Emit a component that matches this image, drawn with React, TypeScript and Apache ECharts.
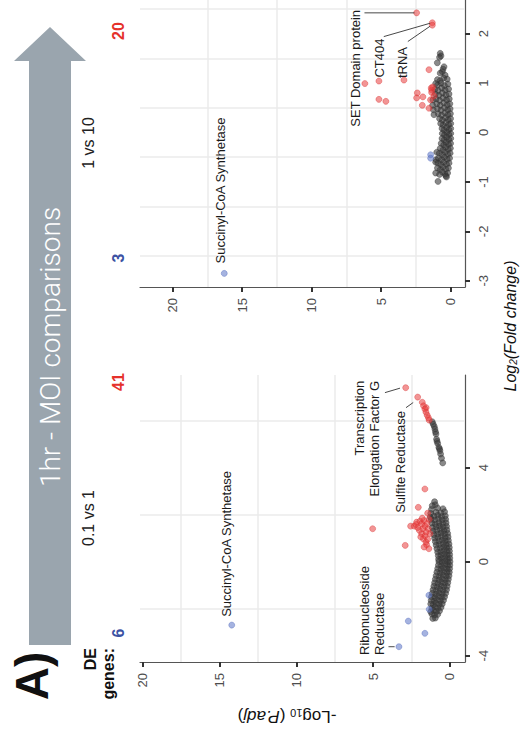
import React, { useEffect, useRef } from "react";
import * as echarts from "echarts";

// Each point is [-log10(P.adj), log2(fold change)].
// 1 vs 10 comparison
const topNs: number[][] = [
  [0.75, 1.6], [0.7, 1.55], [0.8, 1.52], [0.96, 1.41], [0.48, 1.33], [0.6, 1.23], [0.4, 1.16], [0.75, 1.2], [0.55, 1.28],
  [0.25, 1.08], [0.5, 1.1], [0.75, 1.05], [0.95, 1.07],
  [0.2, 0.98], [0.45, 0.95], [0.7, 1.0], [0.95, 0.96], [1.08, 0.99],
  [0.15, 0.88], [0.4, 0.86], [0.65, 0.9], [0.9, 0.85], [1.15, 0.87],
  [0.12, 0.78], [0.35, 0.76], [0.6, 0.8], [0.85, 0.75], [1.1, 0.78],
  [0.1, 0.68], [0.3, 0.66], [0.55, 0.7], [0.8, 0.65], [1.05, 0.68], [1.28, 0.66],
  [0.06, 0.58], [0.25, 0.56], [0.5, 0.6], [0.75, 0.55], [1.0, 0.58], [1.3, 0.55],
  [0.04, 0.48], [0.22, 0.46], [0.45, 0.5], [0.7, 0.45], [0.95, 0.48], [1.25, 0.46],
  [0.02, 0.38], [0.2, 0.36], [0.42, 0.4], [0.65, 0.35], [0.9, 0.38], [1.2, 0.36],
  [0.01, 0.28], [0.18, 0.26], [0.38, 0.3], [0.6, 0.25], [0.8, 0.28],
  [0.0, 0.18], [0.15, 0.16], [0.35, 0.2], [0.55, 0.15], [0.72, 0.18],
  [0.0, 0.08], [0.14, 0.06], [0.3, 0.1], [0.48, 0.05], [0.62, 0.08],
  [0.0, -0.02], [0.13, -0.04], [0.28, 0.0], [0.45, -0.05], [0.6, -0.02],
  [0.0, -0.12], [0.14, -0.14], [0.3, -0.1], [0.47, -0.15], [0.62, -0.12],
  [0.01, -0.22], [0.16, -0.24], [0.33, -0.2], [0.5, -0.25], [0.68, -0.22],
  [0.02, -0.32], [0.18, -0.34], [0.36, -0.3], [0.55, -0.35], [0.75, -0.32],
  [0.04, -0.42], [0.2, -0.44], [0.4, -0.4], [0.6, -0.45], [0.82, -0.42], [1.0, -0.4],
  [0.08, -0.52], [0.25, -0.54], [0.45, -0.5], [0.65, -0.55], [0.88, -0.52], [1.05, -0.55],
  [0.12, -0.62], [0.3, -0.64], [0.5, -0.6], [0.7, -0.65], [0.92, -0.62], [1.08, -0.6],
  [0.16, -0.72], [0.35, -0.74], [0.55, -0.7], [0.75, -0.75], [0.95, -0.72],
  [0.22, -0.82], [0.4, -0.84], [0.6, -0.8], [0.8, -0.85], [1.08, -0.82],
  [0.91, -0.99], [0.35, -0.88], [0.3, -0.9],
];
const topUp: number[][] = [
  [2.45, 2.42], [1.32, 2.22], [1.32, 2.17], [6.17, 0.99], [5.16, 1.04], [5.16, 0.67], [4.66, 0.63],
  [3.36, 1.06], [1.56, 1.27], [2.4, 0.8], [2.45, 0.7], [2.0, 0.72], [2.04, 0.55], [1.56, 0.49],
  [1.37, 0.86], [1.37, 0.81], [1.45, 0.66], [1.3, 0.92], [1.2, 0.74], [1.4, 0.9],
];
const topDown: number[][] = [[16.28, -2.85], [1.44, -0.45], [1.44, -0.52]];

// 0.1 vs 1 comparison
const bottomNs: number[][] = [
  [1.0, 2.55], [0.95, 2.42], [1.15, 2.38],
  [0.45, 2.25], [0.8, 2.28], [1.2, 2.22],
  [0.35, 2.12], [0.6, 2.08], [0.9, 2.1], [1.25, 2.05],
  [0.3, 1.95], [0.55, 1.92], [0.8, 1.97], [1.05, 1.93], [1.28, 1.9],
  [0.28, 1.8], [0.5, 1.78], [0.75, 1.82], [1.0, 1.77], [1.22, 1.8],
  [0.25, 1.65], [0.48, 1.62], [0.7, 1.66], [0.95, 1.6], [1.18, 1.64],
  [0.22, 1.5], [0.45, 1.47], [0.68, 1.52], [0.9, 1.48], [1.15, 1.45],
  [0.2, 1.35], [0.4, 1.32], [0.62, 1.37], [0.85, 1.33], [1.1, 1.3],
  [0.15, 1.2], [0.35, 1.18], [0.58, 1.22], [0.8, 1.17], [1.05, 1.15],
  [0.12, 1.05], [0.32, 1.02], [0.55, 1.07], [0.78, 1.03], [1.0, 1.0],
  [0.1, 0.9], [0.3, 0.88], [0.5, 0.92], [0.72, 0.87], [0.95, 0.85],
  [0.06, 0.75], [0.25, 0.72], [0.45, 0.77], [0.68, 0.73], [0.9, 0.7],
  [0.04, 0.6], [0.22, 0.58], [0.42, 0.62], [0.62, 0.57], [0.85, 0.55],
  [0.03, 0.45], [0.2, 0.43], [0.4, 0.47], [0.6, 0.42], [0.8, 0.4],
  [0.02, 0.3], [0.18, 0.28], [0.38, 0.32], [0.58, 0.27], [0.76, 0.25],
  [0.01, 0.15], [0.16, 0.12], [0.35, 0.17], [0.55, 0.13], [0.74, 0.1],
  [0.0, 0.0], [0.15, -0.02], [0.33, 0.03], [0.52, -0.03], [0.72, 0.0],
  [0.01, -0.15], [0.16, -0.17], [0.35, -0.12], [0.55, -0.18], [0.75, -0.15],
  [0.02, -0.3], [0.18, -0.32], [0.38, -0.28], [0.58, -0.33], [0.8, -0.3],
  [0.04, -0.45], [0.2, -0.47], [0.42, -0.43], [0.62, -0.48], [0.85, -0.45],
  [0.06, -0.6], [0.24, -0.62], [0.45, -0.58], [0.68, -0.63], [0.9, -0.6],
  [0.1, -0.75], [0.3, -0.77], [0.5, -0.73], [0.72, -0.78], [0.95, -0.75],
  [0.14, -0.9], [0.35, -0.92], [0.55, -0.88], [0.78, -0.93], [1.0, -0.9],
  [0.18, -1.05], [0.4, -1.07], [0.6, -1.03], [0.82, -1.08], [1.05, -1.05],
  [0.22, -1.2], [0.45, -1.22], [0.65, -1.18], [0.88, -1.23], [1.1, -1.2],
  [0.28, -1.35], [0.5, -1.37], [0.7, -1.33], [0.92, -1.38], [1.15, -1.35],
  [0.35, -1.5], [0.55, -1.52], [0.75, -1.48], [0.98, -1.53], [1.2, -1.5],
  [0.42, -1.65], [0.62, -1.67], [0.82, -1.63], [1.02, -1.68], [1.22, -1.65],
  [0.5, -1.8], [0.7, -1.82], [0.9, -1.78], [1.1, -1.83], [1.25, -1.8],
  [0.58, -1.95], [0.78, -1.97], [0.98, -1.93], [1.18, -1.98],
  [0.68, -2.1], [0.88, -2.12], [1.08, -2.08], [1.25, -2.13],
  [0.8, -2.25], [1.0, -2.27], [1.18, -2.23],
  [0.95, -2.4], [1.12, -2.42],
  [1.15, 5.95], [1.09, 5.85], [1.02, 5.75], [0.98, 5.64], [0.94, 5.52], [0.91, 5.43], [0.87, 5.21],
  [0.84, 5.12], [0.8, 5.03], [0.72, 4.86], [0.68, 4.8], [0.65, 4.72], [0.61, 4.58], [0.55, 4.4], [0.47, 4.2],
];
const bottomUp: number[][] = [
  [2.88, 7.4], [2.1, 7.0], [1.8, 6.78], [1.72, 6.63], [1.55, 6.55], [1.63, 6.49], [1.56, 6.36],
  [1.48, 6.23], [1.4, 6.12], [1.35, 6.02],
  [5.03, 1.4], [2.91, 0.69], [1.63, 3.09], [2.06, 2.31], [1.45, 2.06],
  [2.56, 1.51], [2.32, 1.51], [2.17, 1.68], [1.95, 1.72], [1.84, 1.61], [1.69, 1.75], [1.63, 1.51],
  [1.99, 1.33], [1.84, 1.19], [1.73, 0.97], [1.56, 0.83], [1.52, 0.72], [1.37, 0.55], [1.41, 1.4],
  [1.3, 1.19], [2.1, 1.45], [1.75, 1.4], [1.5, 1.62], [1.9, 1.05], [1.62, 1.1], [1.45, 0.95],
  [2.2, 1.58], [1.35, 1.8], [1.55, 1.25], [1.68, 0.62], [1.8, 1.85],
];
const bottomDown: number[][] = [
  [14.2, -2.7], [3.32, -3.62], [2.71, -2.53], [1.63, -3.05], [1.37, -1.43], [1.35, -2.03],
];

// Axis ticks and grid-line positions
const pTicks = [0, 5, 10, 15, 20];
const pGrid = [2.5, 7.5, 12.5, 17.5];
const topFcTicks = [-3, -2, -1, 0, 1, 2];
const topFcGrid = [-2.5, -1.5, -0.5, 0.5, 1.5, 2.5];
const bottomFcTicks = [-4, 0, 4];
const bottomFcGrid = [-2, 2, 6];

// Panel headers and DE gene counts
const panelTitles = ["1 vs 10", "0.1 vs 1"];
const downCounts = [3, 6];
const upCounts = [20, 41];

// Gene labels: anchor point in data units, text alignment along the reading direction
type Note = { text: string; at: number[]; align: "left" | "right" };
const topNotes: Note[] = [
  { text: "Succinyl-CoA Synthetase", at: [16.57, -2.65], align: "left" },
  { text: "SET Domain protein", at: [6.85, 2.48], align: "right" },
  { text: "CT404", at: [5.12, 1.9], align: "right" },
  { text: "tRNA", at: [3.46, 1.73], align: "right" },
];
const topLeaders: number[][][] = [
  [[6.2, 2.42], [2.6, 2.42]],
  [[4.81, 1.94], [1.48, 2.21]],
  [[3.08, 1.84], [1.48, 2.15]],
];
const bottomNotes: Note[] = [
  { text: "Succinyl-CoA Synthetase", at: [14.51, -2.35], align: "left" },
  { text: "Ribonucleoside\nReductase", at: [5.04, -3.97], align: "left" },
  { text: "Transcription\nElongation Factor G", at: [5.43, 7.69], align: "right" },
  { text: "Sulfite Reductase", at: [3.25, 6.41], align: "right" },
];
const bottomLeaders: number[][][] = [
  [[4.23, 7.19], [3.25, 7.38]],
  [[2.86, 6.55], [2.39, 6.77]],
  [[4.0, -3.62], [3.6, -3.62]],
];

const FONT = "'Liberation Sans', Arial, Helvetica, sans-serif";
const RED = "#e5312b";
const BLUE = "#3b52a3";

export default function App() {
  const ref = useRef<HTMLDivElement>(null);

  useEffect(() => {
    if (!ref.current) return;
    const chart = echarts.init(ref.current, null, { renderer: "svg" });

    const grids = [
      { left: 140, top: 0, width: 325, height: 287 },
      { left: 140, top: 375, width: 325, height: 287 },
    ];
    const xRanges = [[-1.03, 22.34], [-0.98, 20.17]];
    const yRanges = [[-3.125, 2.68], [-4.27, 7.94]];
    const fcTicks = [topFcTicks, bottomFcTicks];
    const fcGrid = [topFcGrid, bottomFcGrid];
    const panels = [
      { ns: topNs, up: topUp, down: topDown },
      { ns: bottomNs, up: bottomUp, down: bottomDown },
    ];

    const tickLabel = { fontSize: 13, color: "#4d4d4d", fontFamily: FONT };

    const xAxis = grids.map((_, i) => ({
      gridIndex: i,
      type: "value",
      inverse: true,
      position: "bottom",
      min: xRanges[i][0],
      max: xRanges[i][1],
      axisLine: { show: true, onZero: false, lineStyle: { color: "#555", width: 1.2 } },
      axisTick: { show: true, customValues: pTicks, length: 5, lineStyle: { color: "#333", width: 2 } },
      axisLabel: { show: true, customValues: pTicks, rotate: 90, margin: 11, ...tickLabel },
      splitLine: { show: false },
    }));
    const yAxis = grids.map((_, i) => ({
      gridIndex: i,
      type: "value",
      position: "right",
      min: yRanges[i][0],
      max: yRanges[i][1],
      axisLine: { show: true, onZero: false, lineStyle: { color: "#555", width: 1.2 } },
      axisTick: { show: true, customValues: fcTicks[i], length: 5, lineStyle: { color: "#333", width: 2 } },
      axisLabel: { show: true, customValues: fcTicks[i], rotate: 90, margin: 12, ...tickLabel },
      splitLine: { show: false },
    }));

    const dot = (data: number[][], i: number, fill: string, stroke: string, z: number) => ({
      type: "scatter",
      xAxisIndex: i,
      yAxisIndex: i,
      data,
      symbolSize: 6,
      z,
      silent: true,
      itemStyle: { color: fill, borderColor: stroke, borderWidth: 0.6 },
    });

    const series: any[] = [];
    panels.forEach((p, i) => {
      const ns: any = dot(p.ns, i, "rgba(58,58,58,0.75)", "rgba(50,50,50,0.85)", 2);
      ns.markLine = {
        silent: true,
        z: 1,
        symbol: ["none", "none"],
        label: { show: false },
        emphasis: { disabled: true },
        lineStyle: { color: "#ebebeb", width: 1.5, type: "solid" },
        data: [...pGrid.map((v) => ({ xAxis: v })), ...fcGrid[i].map((v) => ({ yAxis: v }))],
      };
      series.push(ns);
      series.push(dot(p.up, i, "rgba(232,60,60,0.68)", "rgba(215,45,45,0.8)", 3));
      series.push(dot(p.down, i, "rgba(95,120,200,0.7)", "rgba(75,100,185,0.8)", 3));
    });

    chart.setOption({
      animation: false,
      grid: grids,
      xAxis,
      yAxis,
      series,
    });

    const rot = Math.PI / 2;
    const decor: any[] = [
      {
        type: "polygon",
        shape: { points: [[50, 27], [86, 61], [71, 61], [71, 645], [29, 645], [29, 61], [14, 61]] },
        style: { fill: "#9aa5ae" },
      },
      {
        type: "text", x: 50, y: 347, rotation: rot,
        style: { text: "1hr - MOI comparisons", fill: "#ffffff", fontSize: 28, fontWeight: 300, fontFamily: "Roboto, " + FONT, align: "center", verticalAlign: "middle" },
      },
      {
        type: "text", x: 32, y: 676, rotation: rot,
        style: { text: "A)", fill: "#111", fontSize: 46, fontWeight: "bold", fontFamily: FONT, align: "center", verticalAlign: "middle" },
      },
      {
        type: "text", x: 99, y: 648, rotation: rot,
        style: { text: "DE\ngenes:", fill: "#111", fontSize: 16, lineHeight: 18, fontWeight: "bold", fontFamily: FONT, align: "right", verticalAlign: "middle" },
      },
      {
        type: "text", x: 510, y: 326, rotation: rot,
        style: {
          text: "{a|Log}{s|2}{a|(Fold change)}",
          fill: "#111",
          align: "center",
          verticalAlign: "middle",
          rich: {
            a: { fontSize: 16, fontStyle: "italic", fontFamily: FONT, fill: "#111" },
            s: { fontSize: 10, fontStyle: "italic", fontFamily: FONT, fill: "#111", verticalAlign: "bottom" },
          },
        },
      },
      {
        type: "text", x: 287, y: 716, rotation: Math.PI,
        style: {
          text: "{a|-Log}{s|10}{a| (}{i|P.adj}{a|)}",
          fill: "#111",
          align: "center",
          verticalAlign: "middle",
          rich: {
            a: { fontSize: 17, fontFamily: FONT, fill: "#111" },
            s: { fontSize: 11, fontFamily: FONT, fill: "#111", verticalAlign: "bottom" },
            i: { fontSize: 17, fontStyle: "italic", fontFamily: FONT, fill: "#111" },
          },
        },
      },
    ];
    const titleY = [143, 518];
    const countY = [[258, 31], [633, 382]];
    panelTitles.forEach((t, i) => {
      decor.push({
        type: "text", x: 88, y: titleY[i], rotation: rot,
        style: { text: t, fill: "#222", fontSize: 16, fontFamily: FONT, align: "center", verticalAlign: "middle" },
      });
      decor.push({
        type: "text", x: 118, y: countY[i][0], rotation: rot,
        style: { text: String(downCounts[i]), fill: BLUE, fontSize: 16, fontWeight: "bold", fontFamily: FONT, align: "center", verticalAlign: "middle" },
      });
      decor.push({
        type: "text", x: 118, y: countY[i][1], rotation: rot,
        style: { text: String(upCounts[i]), fill: RED, fontSize: 16, fontWeight: "bold", fontFamily: FONT, align: "center", verticalAlign: "middle" },
      });
    });

    // gene labels and leader lines, placed through each panel's own scales
    const notes = [topNotes, bottomNotes];
    const leaders = [topLeaders, bottomLeaders];
    const annot: any[] = [];
    notes.forEach((list, i) => {
      list.forEach((n) => {
        const [px, py] = chart.convertToPixel({ gridIndex: i }, n.at) as number[];
        annot.push({
          type: "text", x: px, y: py, rotation: rot,
          style: { text: n.text, fill: "#1a1a1a", fontSize: 13, lineHeight: 15, fontFamily: FONT, align: n.align, verticalAlign: "middle" },
        });
      });
      leaders[i].forEach(([a, b]) => {
        const [x1, y1] = chart.convertToPixel({ gridIndex: i }, a) as number[];
        const [x2, y2] = chart.convertToPixel({ gridIndex: i }, b) as number[];
        annot.push({ type: "line", shape: { x1, y1, x2, y2 }, style: { stroke: "#333", lineWidth: 0.9 } });
      });
    });

    chart.setOption({
      graphic: [...decor, ...annot].map((g) => ({ ...g, z: 10, silent: true })),
    });

    return () => chart.dispose();
  }, []);

  return (
    <div
      ref={ref}
      style={{ position: "absolute", left: 0, top: 0, width: 521, height: 741, background: "#fff" }}
    />
  );
}
